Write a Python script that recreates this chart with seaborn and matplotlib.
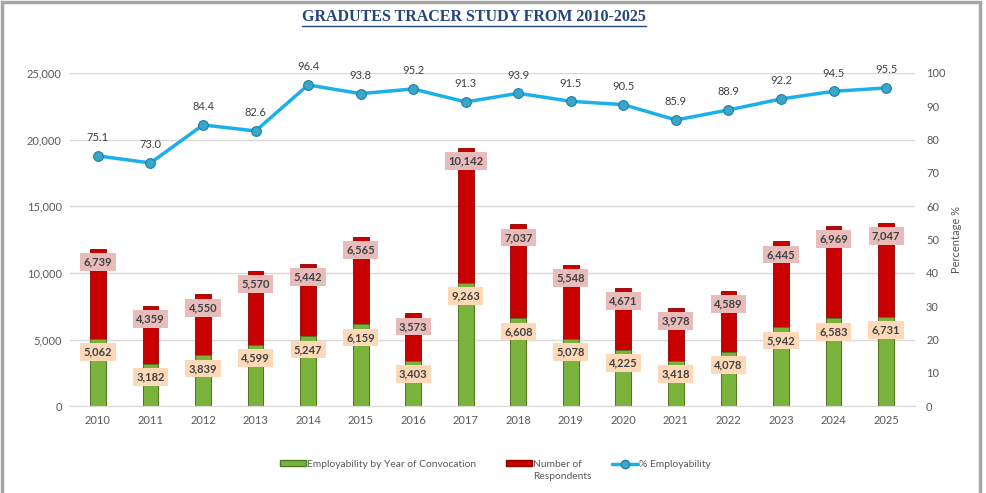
import numpy as np
import matplotlib.pyplot as plt
import seaborn as sns
from matplotlib.patches import Patch, Rectangle
from matplotlib.lines import Line2D

# data
years = ["2010", "2011", "2012", "2013", "2014", "2015", "2016", "2017",
         "2018", "2019", "2020", "2021", "2022", "2023", "2024", "2025"]
employed = [5062, 3182, 3839, 4599, 5247, 6159, 3403, 9263,
            6608, 5078, 4225, 3418, 4078, 5942, 6583, 6731]
respondents = [6739, 4359, 4550, 5570, 5442, 6565, 3573, 10142,
               7037, 5548, 4671, 3978, 4589, 6445, 6969, 7047]
pct = [75.1, 73.0, 84.4, 82.6, 96.4, 93.8, 95.2, 91.3,
       93.9, 91.5, 90.5, 85.9, 88.9, 92.2, 94.5, 95.5]

sns.set_style("white")
plt.rcParams['font.family'] = ['Lato', 'DejaVu Sans']

green = "#7AB33C"
red = "#C80000"
blue = "#1CB0EA"
txt = "#595959"

fig = plt.figure(figsize=(9.87, 4.93), dpi=100)
ax = fig.add_axes([0.071, 0.176, 0.856, 0.676])

totals = [e + r for e, r in zip(employed, respondents)]
sns.barplot(x=years, y=totals, color=red, width=0.3, ax=ax,
            edgecolor="#8B0000", linewidth=0.6, saturation=1)
sns.barplot(x=years, y=employed, color=green, width=0.3, ax=ax,
            edgecolor="#4F7A22", linewidth=0.6, saturation=1)

ax.set_ylim(0, 25000)
ax.set_xlim(-0.53, 15.55)
ax.set_yticks(range(0, 25001, 5000))
ax.set_yticklabels([f"{v:,}" for v in range(0, 25001, 5000)])
ax.yaxis.grid(True, color="#D9D9D9", linewidth=1)
ax.set_axisbelow(True)
for s in ["top", "right", "left"]:
    ax.spines[s].set_visible(False)
ax.spines["bottom"].set_color("#D9D9D9")
ax.tick_params(length=0, labelsize=8, colors=txt, pad=6)
ax.set_xlabel("")
ax.set_ylabel("")

# bar labels
for i in range(len(years)):
    ax.text(i, totals[i] - 1000, f"{respondents[i]:,}", ha="center", va="center",
            fontsize=8, fontweight="bold", color="#404040",
            bbox=dict(boxstyle="square,pad=0.3", fc="#E8BCBB", ec="none"))
    ax.text(i, employed[i] - 1000, f"{employed[i]:,}", ha="center", va="center",
            fontsize=8, fontweight="bold", color="#404040",
            bbox=dict(boxstyle="square,pad=0.3", fc="#FDD9B8", ec="none"))

ax2 = ax.twinx()
sns.lineplot(x=np.arange(len(years)), y=pct, ax=ax2, color=blue, linewidth=2.5,
             marker="o", markersize=7, markerfacecolor="#39A7C9",
             markeredgecolor="#1D7FA0", markeredgewidth=0.8)
ax2.set_ylim(0, 100)
ax2.set_yticks(range(0, 101, 10))
for s in ["top", "right", "left", "bottom"]:
    ax2.spines[s].set_visible(False)
ax2.tick_params(length=0, labelsize=8, colors=txt, pad=8)
ax2.set_ylabel("Percentage %", fontsize=8, color=txt, labelpad=4)
for i, p in enumerate(pct):
    ax2.annotate(f"{p:.1f}", (i, p), xytext=(0, 9), textcoords="offset points",
                 ha="center", va="bottom", fontsize=8, color="#404040")
ax2.set_xlim(-0.53, 15.55)

# title with underline
t = fig.text(0.48, 0.965, "GRADUTES TRACER STUDY FROM 2010-2025", ha="center",
             va="center", fontsize=11.5, fontweight="bold", color="#24457E",
             family="Liberation Serif")

handles = [Patch(facecolor=green, edgecolor="#4F7A22"),
           Patch(facecolor=red, edgecolor="#8B0000"),
           Line2D([], [], color=blue, linewidth=2.5, marker="o",
                  markerfacecolor="#39A7C9", markeredgecolor="#1D7FA0")]
labels = ["Employability by Year of Convocation", "Number of",
          "% Employability"]
leg = fig.legend(handles, labels, loc="center", bbox_to_anchor=(0.502, 0.058), ncol=3,
                 frameon=False, fontsize=7.4, labelcolor=txt, handlelength=2.5,
                 handleheight=0.45, handletextpad=0.15, columnspacing=2.9)

fig.canvas.draw()
bb = t.get_window_extent().transformed(fig.transFigure.inverted())
fig.add_artist(Line2D([bb.x0, bb.x1], [bb.y0 - 0.002, bb.y0 - 0.002],
                      transform=fig.transFigure, color="#24457E", linewidth=1))
lb = leg.get_texts()[1].get_window_extent().transformed(fig.transFigure.inverted())
fig.text(lb.x0, lb.y0 - 0.006, "Respondents", ha="left", va="top",
         fontsize=7.4, color=txt)

fig.add_artist(Rectangle((0.002, -0.01), 0.991, 1.005, transform=fig.transFigure,
                         fill=False, edgecolor="#A6A6A6", linewidth=2.5))

fig.savefig("out.png", dpi=100)
